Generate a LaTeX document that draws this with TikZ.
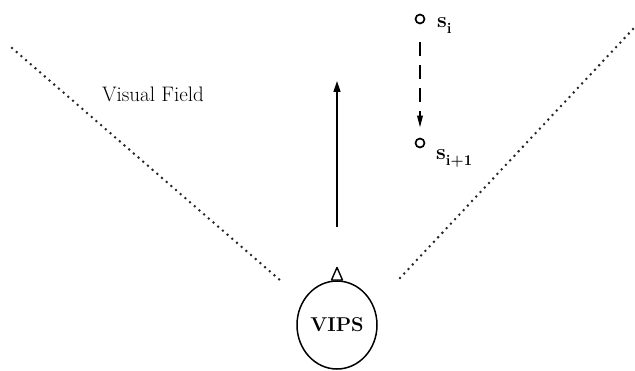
\documentclass[tikz,border=0pt]{standalone}
\usepackage{fontspec}
\usetikzlibrary{arrows.meta,shapes.geometric}
\tikzset{
  fieldline/.style={line width=2.8pt, line cap=round, dash pattern=on 0pt off 6.2pt, black!85},
  statept/.style={circle, draw, line width=1.7pt, minimum size=9pt, inner sep=0pt},
  lbl/.style={font=\fontsize{22}{24}\selectfont\bfseries, inner sep=0pt, anchor=base west},
}
\begin{document}
\begin{tikzpicture}[x=1pt,y=-1pt]
\useasboundingbox (0,0) rectangle (635,371);
% field boundaries
\coordinate (l1) at (12,48);
\coordinate (l2) at (281,281);
\coordinate (r1) at (400,278);
\coordinate (r2) at (634,28);
\draw[fieldline] (l1) -- (l2);
\draw[fieldline] (r1) -- (r2);
% label
\node[font=\fontsize{21}{24}\selectfont, inner sep=0pt, text=black] (vf) at (153,94) {Visual Field};
% VIPS
\node[ellipse, draw, line width=1.5pt, minimum width=80pt, minimum height=88pt, inner sep=0pt,
      font=\fontsize{20}{22}\selectfont\bfseries] (vips) at (337,325) {VIPS};
\coordinate (t1) at (331.5,280);
\coordinate (t2) at (337,267.5);
\coordinate (t3) at (342.5,280);
\draw[line width=1.4pt, line join=round, fill=white] (t1) -- (t2) -- (t3) -- cycle;
% heading arrow
\coordinate (a0) at (337,227);
\coordinate (a1) at (337,81);
\draw[line width=1.6pt, -{Triangle[length=11pt,width=7pt]}] (a0) -- (a1);
% states
\node[statept] (si) at (420,19) {};
\node[statept] (sj) at (420,143) {};
\draw[line width=1.8pt, dash pattern=on 14pt off 9pt, -{Triangle[length=12pt,width=5.5pt]}]
  ([yshift=-18pt]si.south) -- ([yshift=10pt]sj.north);
\node[lbl] (lsi) at (437,28) {s\raisebox{-6pt}{\fontsize{15}{16}\selectfont i}};
\node[lbl] (lsj) at (436,160) {s\raisebox{-6pt}{\fontsize{15}{16}\selectfont i+1}};
\end{tikzpicture}
\end{document}
